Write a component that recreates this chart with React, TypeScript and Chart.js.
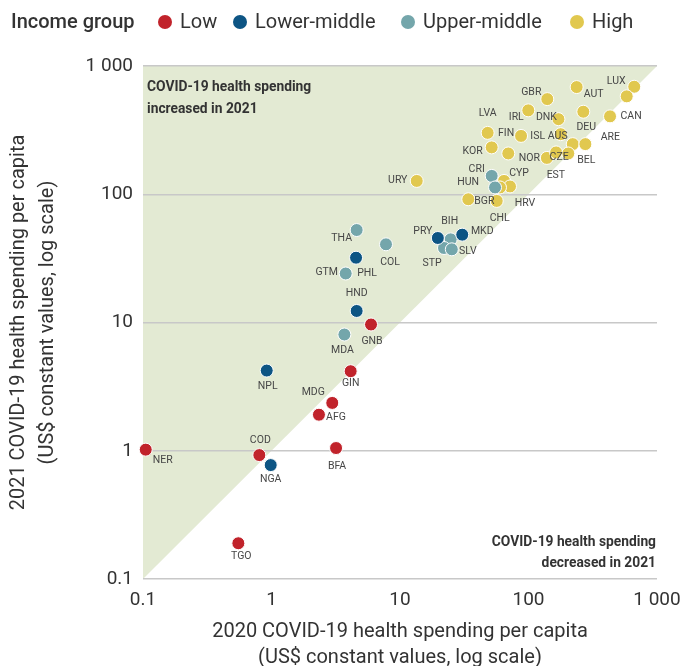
import React, { useEffect, useRef } from 'react';
import { Chart, registerables } from 'chart.js';

Chart.register(...registerables);

// ---- Data ----
const tickValues = [0.1, 1, 10, 100, 1000];
const tickLabels = ['0.1', '1', '10', '100', '1 000'];

const groupNames = ['Low', 'Lower-middle', 'Upper-middle', 'High'];
const groupColors = ['#c1232b', '#0d5584', '#74a6ab', '#e1c84f'];

const lowCodes = ['NER', 'TGO', 'COD', 'BFA', 'AFG', 'MDG', 'GIN', 'GNB'];
const low2020 = [0.105, 0.552, 0.804, 3.18, 2.34, 2.97, 4.13, 5.95];
const low2021 = [1.02, 0.19, 0.925, 1.05, 1.91, 2.36, 4.17, 9.65];

const lowerMiddleCodes = ['NPL', 'NGA', 'HND', 'PHL', 'PRY', 'MKD'];
const lowerMiddle2020 = [0.918, 0.986, 4.6, 4.55, 19.7, 30.5];
const lowerMiddle2021 = [4.22, 0.773, 12.3, 32.0, 45.6, 48.4];

const upperMiddleCodes = ['MDA', 'GTM', 'THA', 'COL', 'BIH', 'STP', 'SLV', 'CRI', 'HUN'];
const upperMiddle2020 = [3.69, 3.78, 4.6, 7.78, 24.8, 22.0, 25.3, 51.7, 54.9];
const upperMiddle2021 = [8.06, 24.1, 52.6, 40.7, 44.5, 38.1, 37.2, 139, 113];

const highCodes = ['LUX', '', 'AUT', 'GBR', 'IRL', 'DEU', 'CAN', 'DNK', 'LVA', 'FIN', 'ISL', 'AUS', 'ARE', 'KOR', 'NOR', 'EST', 'CZE', 'BEL', 'CYP', 'HRV', '', 'BGR', 'CHL', 'URY'];
const high2020 = [665, 581, 237, 140, 99.6, 267, 431, 171, 48.1, 87.5, 178, 221, 277, 51.7, 69.6, 139, 164, 204, 64.5, 71.8, 60, 34, 56.6, 13.5];
const high2021 = [689, 580, 685, 552, 451, 440, 405, 385, 301, 285, 294, 246, 246, 232, 208, 192, 212, 208, 127, 115, 113, 91.4, 88.7, 127];

const annotationUp = ['COVID-19 health spending', 'increased in 2021'];
const annotationDown = ['COVID-19 health spending', 'decreased in 2021'];
const xTitle = ['2020 COVID-19 health spending per capita', '(US$ constant values, log scale)'];
const yTitle = ['2021 COVID-19 health spending per capita', '(US$ constant values, log scale)'];
const legendTitle = 'Income group';

// label placement relative to the point (px)
const labelOffsets: Record<string, [number, number]> = {
  LUX: [-18, -5], AUT: [17, 7], GBR: [-16, -7], IRL: [-12, 7], DEU: [3, 16], CAN: [21, 0],
  DNK: [-12, -2], ARE: [25, -7], LVA: [0, -19], FIN: [-15, -3], ISL: [-23, 2], AUS: [-15, -8],
  KOR: [-19, 4], NOR: [21, 5], EST: [9, 17], CZE: [3, 5], BEL: [18, 7], CRI: [-15, -7],
  CYP: [15, -8], HUN: [-27, -5], BGR: [16, 2], HRV: [15, 17], CHL: [3, 17], URY: [-19, -1],
  THA: [-15, 8], COL: [4, 18], PRY: [-15, -7], BIH: [-1, -18], MKD: [20, -3], STP: [-12, 15],
  SLV: [16, 2], PHL: [11, 16], GTM: [-19, -1], HND: [0, -18], GNB: [1, 17], MDA: [-2, 16],
  GIN: [0, 12], NPL: [1, 16], MDG: [-19, -11], AFG: [17, 3], NER: [17, 11], COD: [1, -15],
  NGA: [0, 14], BFA: [1, 18], TGO: [3, 13],
};

const groups = [
  { codes: lowCodes, x: low2020, y: low2021 },
  { codes: lowerMiddleCodes, x: lowerMiddle2020, y: lowerMiddle2021 },
  { codes: upperMiddleCodes, x: upperMiddle2020, y: upperMiddle2021 },
  { codes: highCodes, x: high2020, y: high2021 },
];

const FONT = 'Roboto';
const TEXT = '#333333';

const customPlugin = {
  id: 'customDecor',
  beforeDraw(chart: any) {
    const { ctx, scales } = chart;
    const xs = scales.x;
    const ys = scales.y;
    ctx.save();
    ctx.fillStyle = '#e3ead3';
    ctx.beginPath();
    ctx.moveTo(xs.getPixelForValue(0.1), ys.getPixelForValue(0.1));
    ctx.lineTo(xs.getPixelForValue(0.1), ys.getPixelForValue(1000));
    ctx.lineTo(xs.getPixelForValue(1000), ys.getPixelForValue(1000));
    ctx.closePath();
    ctx.fill();
    ctx.restore();
  },
  afterDatasetsDraw(chart: any) {
    const { ctx } = chart;
    ctx.save();
    ctx.font = `10.5px ${FONT}`;
    ctx.fillStyle = '#474747';
    ctx.textAlign = 'center';
    ctx.textBaseline = 'middle';
    groups.forEach((g, di) => {
      const meta = chart.getDatasetMeta(di);
      meta.data.forEach((el: any, i: number) => {
        const code = g.codes[i];
        if (!code) return;
        const off = labelOffsets[code] || [0, 14];
        ctx.fillText(code, el.x + off[0], el.y + off[1]);
      });
    });
    ctx.restore();
  },
  afterDraw(chart: any) {
    const { ctx, chartArea } = chart;
    ctx.save();
    // legend
    ctx.textBaseline = 'middle';
    ctx.textAlign = 'left';
    ctx.fillStyle = TEXT;
    ctx.font = `500 20px ${FONT}`;
    ctx.fillText(legendTitle, 11, 23);
    const dotX = [165, 240, 408, 577];
    ctx.font = `20px ${FONT}`;
    groupNames.forEach((name, i) => {
      ctx.fillStyle = groupColors[i];
      ctx.beginPath();
      ctx.arc(dotX[i], 22, 7, 0, Math.PI * 2);
      ctx.fill();
      ctx.fillStyle = TEXT;
      ctx.fillText(name, dotX[i] + 15, 23);
    });
    // annotations
    ctx.font = `bold 13.8px ${FONT}`;
    ctx.fillStyle = TEXT;
    ctx.textAlign = 'left';
    ctx.fillText(annotationUp[0], chartArea.left + 4, chartArea.top + 22);
    ctx.fillText(annotationUp[1], chartArea.left + 4, chartArea.top + 44);
    ctx.textAlign = 'right';
    ctx.fillText(annotationDown[0], chartArea.right - 1, chartArea.bottom - 36);
    ctx.fillText(annotationDown[1], chartArea.right - 1, chartArea.bottom - 15);
    ctx.restore();
  },
};

const App = () => {
  const ref = useRef<HTMLCanvasElement>(null);
  useEffect(() => {
    const datasets = groups.map((g, i) => ({
      label: groupNames[i],
      data: g.x.map((xv, j) => ({ x: xv, y: g.y[j] })),
      backgroundColor: groupColors[i],
      borderColor: '#ffffff',
      borderWidth: 1,
      pointRadius: 6.5,
      clip: false as any,
    }));
    const chart = new Chart(ref.current as HTMLCanvasElement, {
      type: 'scatter',
      data: { datasets },
      options: {
        animation: false,
        responsive: false,
        devicePixelRatio: 1,
        layout: { padding: { top: 66, right: 25, left: 0, bottom: 0 } },
        plugins: { legend: { display: false }, tooltip: { enabled: false } },
        scales: {
          x: {
            type: 'logarithmic',
            min: 0.1,
            max: 1000,
            afterBuildTicks: (s: any) => { s.ticks = tickValues.map((v) => ({ value: v })); },
            afterFit: (s: any) => { s.height = 87; s.paddingLeft = 0; s.paddingRight = 0; },
            grid: { display: false, drawTicks: false },
            border: { display: false },
            ticks: {
              padding: 10,
              maxRotation: 0,
              color: TEXT,
              font: { family: FONT, size: 19 },
              callback: (v: any) => tickLabels[tickValues.indexOf(Number(v))],
            },
            title: {
              display: true,
              text: xTitle,
              color: TEXT,
              font: { family: FONT, size: 20, lineHeight: 1.3 },
              padding: { top: 0, bottom: -5 },
            },
          },
          y: {
            type: 'logarithmic',
            min: 0.1,
            max: 1000,
            afterBuildTicks: (s: any) => { s.ticks = tickValues.map((v) => ({ value: v })); },
            afterFit: (s: any) => { s.width = 143; s.paddingTop = 0; s.paddingBottom = 0; },
            grid: { color: '#c8c8c8', lineWidth: 1.5, drawTicks: false },
            border: { display: false },
            ticks: {
              padding: 10,
              color: TEXT,
              font: { family: FONT, size: 19 },
              callback: (v: any) => tickLabels[tickValues.indexOf(Number(v))],
            },
            title: {
              display: true,
              text: yTitle,
              color: TEXT,
              font: { family: FONT, size: 20, lineHeight: 1.45 },
              padding: { top: 4, bottom: 0 },
            },
          },
        },
      },
      plugins: [customPlugin],
    } as any);
    return () => chart.destroy();
  }, []);
  return (
    <div style={{ position: 'fixed', left: 0, top: 0, width: 682, height: 666, background: '#ffffff' }}>
      <canvas ref={ref} width={682} height={666} style={{ display: 'block', width: 682, height: 666 }} />
    </div>
  );
};

export default App;
